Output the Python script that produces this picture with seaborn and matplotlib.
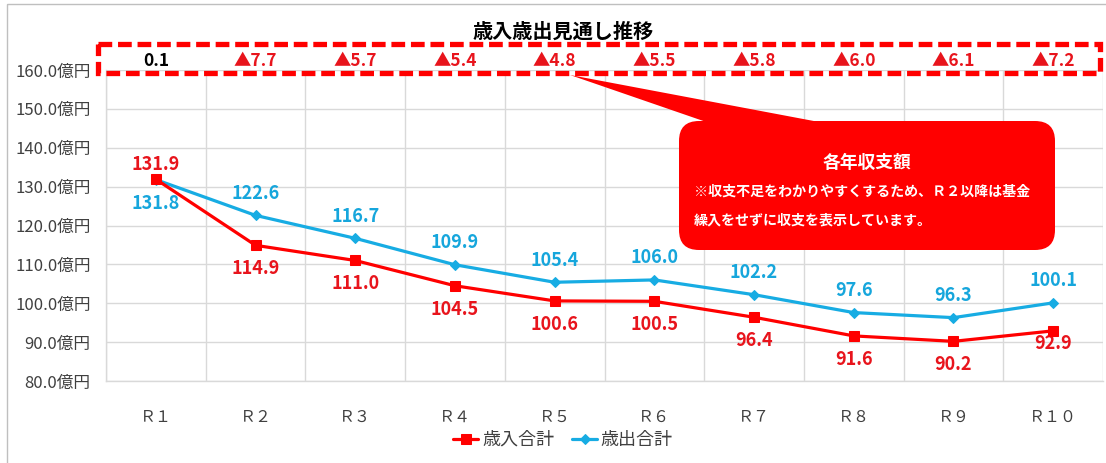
import numpy as np
import pandas as pd
import matplotlib.pyplot as plt
import seaborn as sns
from matplotlib.patches import Rectangle, FancyBboxPatch, Polygon
from matplotlib.transforms import blended_transform_factory

# --- data ---
years = ["Ｒ１", "Ｒ２", "Ｒ３", "Ｒ４", "Ｒ５", "Ｒ６", "Ｒ７", "Ｒ８", "Ｒ９", "Ｒ１０"]
revenue = [131.9, 114.9, 111.0, 104.5, 100.6, 100.5, 96.4, 91.6, 90.2, 92.9]
expenditure = [131.8, 122.6, 116.7, 109.9, 105.4, 106.0, 102.2, 97.6, 96.3, 100.1]
balance = [0.1, -7.7, -5.7, -5.4, -4.8, -5.5, -5.8, -6.0, -6.1, -7.2]
y_ticks = [80, 90, 100, 110, 120, 130, 140, 150, 160]

RED = "#FF0000"
RED_TXT = "#E8141C"
BLUE = "#17ACE3"
BLUE_TXT = "#16A6DC"

sns.set_theme(style="white")
plt.rcParams["font.family"] = ["Noto Sans CJK JP", "DejaVu Sans"]

W, H = 1106, 463
fig = plt.figure(figsize=(W / 100, H / 100), dpi=100)
fig.patch.set_facecolor("white")

# plot area in pixels: x 106..1103, y 70..381
ax = fig.add_axes([106 / W, 1 - 381 / H, (1103 - 106) / W, (381 - 70) / H])

df = pd.DataFrame({"x": np.arange(len(years)), "rev": revenue, "exp": expenditure})
sns.lineplot(data=df, x="x", y="rev", ax=ax, color=RED, lw=2.3, marker="s",
             markersize=7, markeredgecolor=RED, label="歳入合計", zorder=4)
sns.lineplot(data=df, x="x", y="exp", ax=ax, color=BLUE, lw=2.3, marker="D",
             markersize=5.5, markeredgecolor=BLUE, label="歳出合計", zorder=3)

ax.set_xlim(-0.5, len(years) - 0.5)
ax.set_ylim(80, 160)
ax.set_yticks(y_ticks)
ax.set_yticklabels([f"{v:.1f}億円" for v in y_ticks], fontsize=12, color="#404040")
ax.set_xticks(df["x"])
ax.set_xticklabels(years, fontsize=11.5, color="#404040")
ax.set_xticks(np.arange(-0.5, len(years), 1), minor=True)
ax.tick_params(axis="both", which="both", length=0)
ax.tick_params(axis="x", pad=20)
ax.tick_params(axis="y", pad=11)
ax.grid(False)
ax.grid(True, axis="y", which="major", color="#D9D9D9", lw=1)
ax.grid(True, axis="x", which="minor", color="#D9D9D9", lw=1)
ax.set_xlabel("")
ax.set_ylabel("")
for s in ["top", "right"]:
    ax.spines[s].set_visible(False)
for s in ["left", "bottom"]:
    ax.spines[s].set_color("#D9D9D9")
    ax.spines[s].set_linewidth(1)

# data labels
for i, v in enumerate(revenue):
    dy = 4 if i == 0 else -10
    va = "bottom" if i == 0 else "top"
    if i == len(years) - 1:
        dy = -2
    ax.annotate(f"{v:.1f}", (i, v), xytext=(0, dy), textcoords="offset points",
                ha="center", va=va, color=RED_TXT, fontsize=13, fontweight="bold")
for i, v in enumerate(expenditure):
    dy = -10 if i == 0 else 9
    va = "top" if i == 0 else "bottom"
    ax.annotate(f"{v:.1f}", (i, v), xytext=(0, dy), textcoords="offset points",
                ha="center", va=va, color=BLUE_TXT, fontsize=13, fontweight="bold")

# yearly balance row
trans = blended_transform_factory(ax.transData, fig.transFigure)
for i, b in enumerate(balance):
    txt = f"{b:.1f}" if b >= 0 else f"▲{-b:.1f}"
    ax.text(i, 1 - 61 / H, txt, transform=trans, ha="center", va="center",
            fontsize=12.5, fontweight="bold",
            color="black" if b >= 0 else RED_TXT, clip_on=False)

leg = ax.legend(loc="center", bbox_to_anchor=(563 / W, 1 - 440 / H),
                bbox_transform=fig.transFigure, ncol=2, frameon=False,
                fontsize=13, handlelength=1.4, columnspacing=1.0, handletextpad=0.2)
for t in leg.get_texts():
    t.set_color("#404040")

fig.text(563 / W, 1 - 31 / H, "歳入歳出見通し推移", ha="center", va="center",
         fontsize=14.5, fontweight="bold", color="black")

# overlay in pixel coordinates for callout shapes
ov = fig.add_axes([0, 0, 1, 1], zorder=5)
ov.set_xlim(0, W)
ov.set_ylim(H, 0)
ov.axis("off")
ov.patch.set_visible(False)

ov.add_patch(Rectangle((7, 4), W, H, fill=False, edgecolor="#BFBFBF", lw=1))
ov.add_patch(Rectangle((98, 44), 1002, 29, fill=False, edgecolor=RED, lw=3.8,
                       linestyle=(0, (2.6, 1.1))))
ov.add_patch(Polygon([(570, 75), (835, 125), (715, 125)], closed=True,
                     facecolor=RED, edgecolor="none"))
ov.add_patch(FancyBboxPatch((679, 121), 376, 129,
                            boxstyle="round,pad=0,rounding_size=20",
                            facecolor=RED, edgecolor="none"))
ov.text(867, 163, "各年収支額", ha="center", va="center", color="white",
        fontsize=12.8, fontweight="bold")
ov.text(694, 192, "※収支不足をわかりやすくするため、Ｒ２以降は基金", ha="left",
        va="center", color="white", fontsize=10.1, fontweight="bold")
ov.text(694, 220, "繰入をせずに収支を表示しています。", ha="left",
        va="center", color="white", fontsize=10.1, fontweight="bold")

plt.savefig("out.png", dpi=100)
